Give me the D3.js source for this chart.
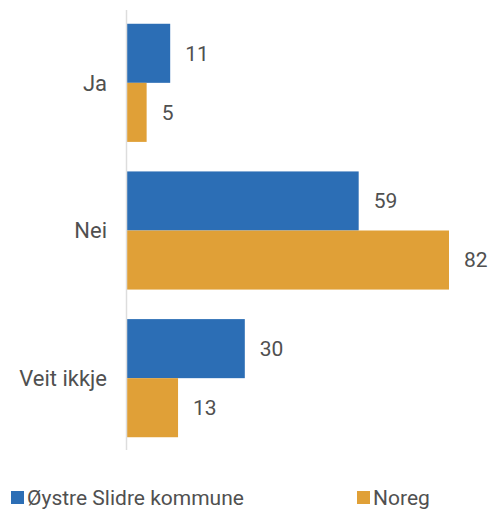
<!DOCTYPE html>
<html>
<head>
<meta charset="utf-8">
<script src="https://cdn.jsdelivr.net/npm/d3@7"></script>
<style>
  body { margin: 0; background: #fff; }
  text { font-family: Roboto, "Noto Sans", sans-serif; fill: #505050; }
</style>
</head>
<body>
<div id="chart"></div>
<script>
var categories = ["Ja", "Nei", "Veit ikkje"];
var seriesNames = ["Øystre Slidre kommune", "Noreg"];
var kommune = [11, 59, 30];
var noreg = [5, 82, 13];
var colors = ["#2c6eb5", "#e0a037"];

var width = 491, height = 510;

var svg = d3.select("#chart")
  .append("svg")
    .attr("width", width)
    .attr("height", height);

var data = categories.map(function(c, i) {
  return { cat: c, values: [kommune[i], noreg[i]] };
});

var x = d3.scaleLinear()
  .domain([0, 82])
  .range([127, 449]);

var y = d3.scaleBand()
  .domain(categories)
  .range([9, 452])
  .paddingInner(0.2)
  .paddingOuter(0.1);

var ySub = d3.scaleBand()
  .domain([0, 1])
  .range([0, y.bandwidth()]);

// category labels
svg.append("g")
  .selectAll("text")
  .data(categories)
  .enter()
  .append("text")
    .attr("x", 107)
    .attr("y", function(d) { return y(d) + y.bandwidth() / 2; })
    .attr("dy", "0.35em")
    .attr("text-anchor", "end")
    .attr("font-size", "22px")
    .text(function(d) { return d; });

// bars
var groups = svg.append("g")
  .selectAll("g")
  .data(data)
  .enter()
  .append("g")
    .attr("transform", function(d) { return "translate(0," + y(d.cat) + ")"; });

groups.selectAll("rect")
  .data(function(d) { return d.values; })
  .enter()
  .append("rect")
    .attr("x", x(0))
    .attr("y", function(d, i) { return ySub(i); })
    .attr("width", function(d) { return x(d) - x(0); })
    .attr("height", ySub.bandwidth())
    .attr("fill", function(d, i) { return colors[i]; });

groups.selectAll("text")
  .data(function(d) { return d.values; })
  .enter()
  .append("text")
    .attr("x", function(d) { return x(d) + 15; })
    .attr("y", function(d, i) { return ySub(i) + ySub.bandwidth() / 2; })
    .attr("dy", "0.35em")
    .attr("font-size", "21px")
    .text(function(d) { return d; });

// axis line
svg.append("line")
  .attr("x1", x(0) - 0.5)
  .attr("x2", x(0) - 0.5)
  .attr("y1", 10)
  .attr("y2", 450)
  .attr("stroke", "#ddd")
  .attr("stroke-width", 1.5);

// legend
var legendX = [11, 357];
var legend = svg.append("g")
  .selectAll("g")
  .data(seriesNames)
  .enter()
  .append("g")
    .attr("transform", function(d, i) { return "translate(" + legendX[i] + ",491)"; });

legend.append("rect")
  .attr("width", 13)
  .attr("height", 13)
  .attr("fill", function(d, i) { return colors[i]; });

legend.append("text")
  .attr("x", 16)
  .attr("y", 7)
  .attr("dy", "0.35em")
  .attr("font-size", "21px")
  .text(function(d) { return d; });
</script>
</body>
</html>
